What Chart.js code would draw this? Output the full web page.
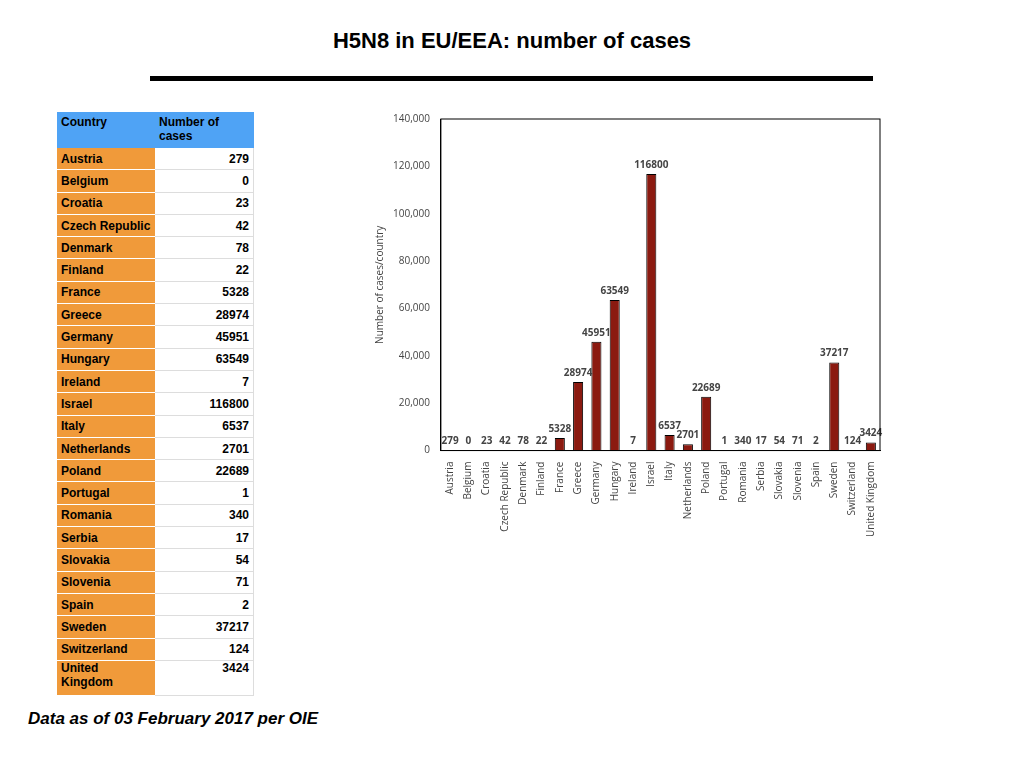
<!DOCTYPE html>
<html><head><meta charset="utf-8">
<script src="https://cdn.jsdelivr.net/npm/chart.js@4"></script>
<style>
body{margin:0;width:1024px;height:768px;background:#fff;font-family:"Liberation Sans",Arial,sans-serif;position:relative;overflow:hidden}
#title{position:absolute;top:28px;left:0;width:1024px;text-align:center;font-size:22px;font-weight:bold}
#rule{position:absolute;top:76px;left:150px;width:723px;height:5px;background:#000}
table{position:absolute;left:57px;top:112px;border-collapse:collapse;font-size:12px;font-weight:bold;width:197px}
td{height:21.3px;padding:0 4px;border-bottom:1px solid #ddd;vertical-align:middle}
td.c{background:#F09A3A;width:90px;border-bottom:1px solid #fff}
td.v{width:90px;text-align:right;border-right:1px solid #ddd}
th{background:#4FA3F5;text-align:left;vertical-align:top;padding:3px 4px;height:30px;font-size:12px;width:90px}
#foot{position:absolute;left:28px;top:709px;font-size:17px;font-weight:bold;font-style:italic}
#wrap{position:absolute;left:370px;top:110px;width:520px;height:430px}
</style></head><body>
<div id="title">H5N8 in EU/EEA: number of cases</div>
<div id="rule"></div>
<table id="tbl"><tr><th>Country</th><th>Number of<br>cases</th></tr></table>
<div id="foot">Data as of 03 February 2017 per OIE</div>
<div id="wrap"><canvas id="c"></canvas></div>
<script>
var countries=["Austria","Belgium","Croatia","Czech Republic","Denmark","Finland","France","Greece","Germany","Hungary","Ireland","Israel","Italy","Netherlands","Poland","Portugal","Romania","Serbia","Slovakia","Slovenia","Spain","Sweden","Switzerland","United Kingdom"];
var cases=[279,0,23,42,78,22,5328,28974,45951,63549,7,116800,6537,2701,22689,1,340,17,54,71,2,37217,124,3424];
var tbl=document.getElementById('tbl');
for(var i=0;i<countries.length;i++){
  var tr=document.createElement('tr');
  var td1=document.createElement('td');td1.className='c';
  var td2=document.createElement('td');td2.className='v';
  if(countries[i]==="United Kingdom"){td1.innerHTML="United<br>Kingdom";td1.style.height="34px";td1.style.verticalAlign="top";td2.style.verticalAlign="top";}
  else td1.textContent=countries[i];
  td2.textContent=String(cases[i]);
  tr.appendChild(td1);tr.appendChild(td2);tbl.appendChild(tr);
}
var labelPlugin={id:'lbl',afterDatasetsDraw:function(ch){var ctx=ch.ctx;var m=ch.getDatasetMeta(0);
 ctx.save();ctx.font='bold 10px "Open Sans",sans-serif';ctx.fillStyle='#444';ctx.textAlign='center';ctx.textBaseline='bottom';
 m.data.forEach(function(b,j){ctx.fillText(String(cases[j]),b.x,b.y-4);});ctx.restore();}};
var frame={id:'frame',afterDraw:function(ch){var a=ch.chartArea,ctx=ch.ctx;ctx.save();ctx.strokeStyle='#000';ctx.lineWidth=1;ctx.strokeRect(a.left,a.top,a.right-a.left,a.bottom-a.top);ctx.restore();}};
var tf={size:10,family:'"Open Sans"'};
new Chart(document.getElementById('c'),{type:'bar',
 data:{labels:countries,datasets:[{data:cases,backgroundColor:'#8B1A10',borderColor:'#000',borderWidth:1,barPercentage:0.55,categoryPercentage:1}]},
 options:{responsive:true,maintainAspectRatio:false,animation:false,
  plugins:{legend:{display:false},tooltip:{enabled:false}},
  layout:{padding:{top:5,right:10}},
  scales:{y:{min:0,max:140000,ticks:{stepSize:20000,color:'#444',font:tf},grid:{display:false},border:{color:'#000'},
    title:{display:true,text:'Number of cases/country',color:'#444',font:tf}},
   x:{grid:{display:false},border:{color:'#000'},ticks:{color:'#444',autoSkip:false,maxRotation:90,minRotation:90,font:tf}}}},
 plugins:[labelPlugin,frame]});
</script></body></html>
